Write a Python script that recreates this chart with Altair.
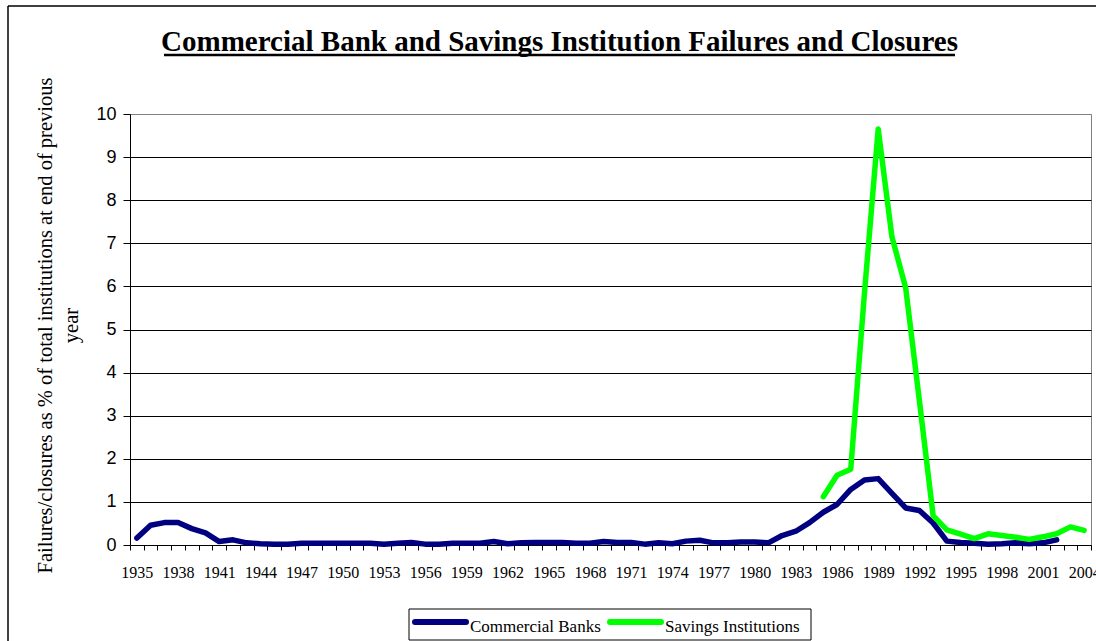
import altair as alt
import pandas as pd

# Failures/closures as % of institutions at end of previous year
bank_years = list(range(1935, 2003))
bank_rates = [
    0.16, 0.46, 0.52, 0.52, 0.38, 0.28, 0.08, 0.12, 0.05, 0.03,   # 1935-1944
    0.02, 0.02, 0.04, 0.04, 0.04, 0.04, 0.04, 0.04, 0.02, 0.04,   # 1945-1954
    0.06, 0.02, 0.02, 0.04, 0.04, 0.04, 0.08, 0.03, 0.05, 0.06,   # 1955-1964
    0.06, 0.06, 0.04, 0.04, 0.08, 0.06, 0.06, 0.02, 0.05, 0.03,   # 1965-1974
    0.09, 0.11, 0.05, 0.05, 0.07, 0.07, 0.05, 0.22, 0.32, 0.52,   # 1975-1984
    0.76, 0.94, 1.29, 1.51, 1.54, 1.20, 0.86, 0.80, 0.51, 0.09,   # 1985-1994
    0.06, 0.04, 0.02, 0.03, 0.05, 0.03, 0.05, 0.12,               # 1995-2002
]
thrift_years = list(range(1985, 2005))
thrift_rates = [
    1.12, 1.62, 1.76, 5.85, 9.65, 7.15, 5.97, 3.35, 0.68, 0.35,   # 1985-1994
    0.25, 0.15, 0.26, 0.22, 0.18, 0.13, 0.19, 0.26, 0.42, 0.34,   # 1995-2004
]
series_names = ["Commercial Banks", "Savings Institutions"]
series_colors = ["#000080", "#00FF00"]

title_text = "Commercial Bank and Savings Institution Failures and Closures"
y_title = ["Failures/closures as % of total institutions at end of previous", "year"]

first_year, last_year = 1935, 2004
y_ticks = list(range(0, 11))
# category boundaries carry the tick marks; labels sit at every third year
x_bounds = [y - 0.5 for y in range(first_year, last_year + 2)]

W, H = 961, 431
LEFT, TOP = 130, 114
band = W / (last_year - first_year + 1)

df = pd.concat([
    pd.DataFrame({"year": bank_years, "rate": bank_rates, "series": series_names[0]}),
    pd.DataFrame({"year": thrift_years, "rate": thrift_rates, "series": series_names[1]}),
], ignore_index=True)
df["order"] = df["series"].map({series_names[0]: 0, series_names[1]: 1})

x_scale = alt.Scale(domain=[first_year - 0.5, last_year + 0.5], nice=False, zero=False)
y_scale = alt.Scale(domain=[0, 10], nice=False)
color_scale = alt.Scale(domain=series_names, range=series_colors)

lines = alt.Chart(df).mark_line(strokeWidth=5.5, strokeCap="round", strokeJoin="round").encode(
    x=alt.X("year:Q", scale=x_scale, axis=alt.Axis(
        values=x_bounds, title=None, grid=False,
        tickSize=5, tickColor="black", domainColor="black",
        labelExpr=f"(datum.value + 0.5 - {first_year}) % 3 == 0 ? '' + (datum.value + 0.5) : ''",
        labelOffset=band / 2, labelPadding=14, labelOverlap=False, labelBound=False,
        labelFlush=False, labelFont="Liberation Serif", labelFontSize=16, labelColor="black",
    )),
    y=alt.Y("rate:Q", scale=y_scale, axis=alt.Axis(
        values=y_ticks, title=y_title, grid=True,
        gridColor={"condition": {"test": "datum.value == 10", "value": "#808080"}, "value": "black"},
        gridWidth=1, tickSize=7, tickColor="black", domainColor="black",
        labelPadding=7, labelFont="Liberation Sans", labelFontSize=18, labelColor="black",
        titleFont="Liberation Serif", titleFontSize=20.5, titleFontWeight="normal",
        titleColor="black", titleLineHeight=26, titleAngle=270, titleBaseline="top",
        titleAlign="center", titleX=35 - LEFT, titleY=211,
    )),
    color=alt.Color("series:N", scale=color_scale, legend=None),
    order="order:Q",
    detail="series:N",
)

one = pd.DataFrame({"t": [title_text]})

# chart title with its underline
title_mark = alt.Chart(one).mark_text(
    font="Liberation Serif", fontSize=29, fontWeight="bold", color="black",
    align="center", baseline="alphabetic",
).encode(text="t:N", x=alt.value(559.5 - LEFT), y=alt.value(51 - TOP))

underline = alt.Chart(one).mark_rule(color="black", strokeWidth=2.5).encode(
    x=alt.value(164 - LEFT), x2=alt.value(955 - LEFT), y=alt.value(55 - TOP))

# outer frame of the chart area
frame_top = alt.Chart(one).mark_rule(color="black", strokeWidth=1.5).encode(
    x=alt.value(8 - LEFT), x2=alt.value(1100 - LEFT), y=alt.value(6 - TOP))
frame_left = alt.Chart(one).mark_rule(color="black", strokeWidth=1.5).encode(
    x=alt.value(8 - LEFT), y=alt.value(6 - TOP), y2=alt.value(645 - TOP))

# boxed legend below the plot: a line sample and a label for each series
legend_box = alt.Chart(one).mark_rect(fill="white", stroke="black", strokeWidth=1).encode(
    x=alt.value(409 - LEFT), x2=alt.value(811 - LEFT),
    y=alt.value(609 - TOP), y2=alt.value(640 - TOP))

legend_parts = [legend_box]
entry_left = [413, 608]
for name, left in zip(series_names, entry_left):
    entry = pd.DataFrame({"series": [name]})
    legend_parts.append(
        alt.Chart(entry).mark_rule(strokeWidth=6, strokeCap="round").encode(
            color=alt.Color("series:N", scale=color_scale, legend=None),
            x=alt.value(left + 2 - LEFT), x2=alt.value(left + 53 - LEFT),
            y=alt.value(622 - TOP)))
    legend_parts.append(
        alt.Chart(entry).mark_text(
            font="Liberation Serif", fontSize=17, color="black",
            align="left", baseline="alphabetic",
        ).encode(text="series:N", x=alt.value(left + 57 - LEFT), y=alt.value(632 - TOP)))

chart = alt.layer(lines, title_mark, underline, frame_top, frame_left, *legend_parts).properties(
    width=W, height=H,
    padding={"left": LEFT, "top": TOP, "right": 1096 - LEFT - W, "bottom": 641 - TOP - H},
    autosize=alt.AutoSizeParams(type="none"),
    background="white",
).configure_view(stroke="#808080", strokeWidth=1)

chart.save("out.html", embed_options={"renderer": "svg", "actions": False})
